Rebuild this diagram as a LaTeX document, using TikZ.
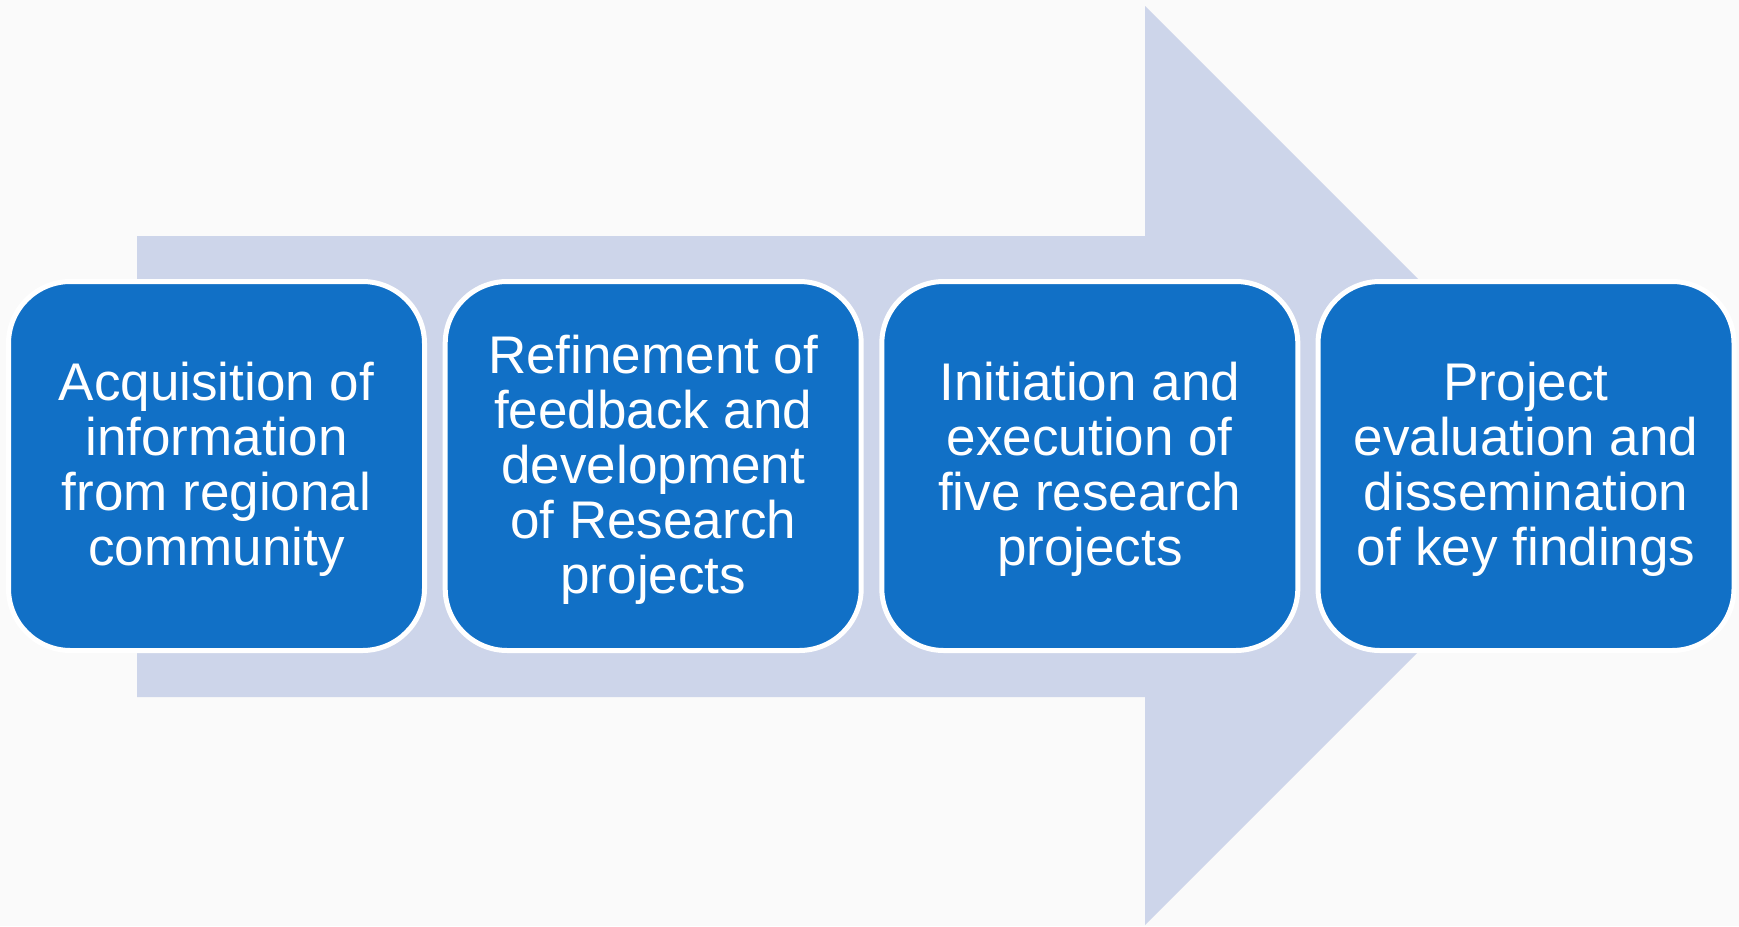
\documentclass[tikz,border=0pt]{standalone}
\usepackage{fontspec}
\setmainfont{Liberation Sans}
\definecolor{bgc}{HTML}{FAFAFA}
\definecolor{arrowc}{HTML}{CDD5EA}
\definecolor{boxc}{HTML}{1170C6}
\begin{document}
\begin{tikzpicture}[x=0.5pt,y=-0.5pt,
  stagebox/.style={rectangle, rounded corners=31pt, fill=boxc, draw=white,
    line width=2.5pt, minimum width=208pt, minimum height=184.5pt,
    inner sep=0pt},
  stagetext/.style={text=white, align=center, inner sep=0pt,
    font=\fontsize{26.5pt}{27.5pt}\selectfont}]
\fill[bgc] (0,0) rectangle (1739,926);
\useasboundingbox (0,0) rectangle (1739,926);
\fill[arrowc] (137,236) -- (1145,236) -- (1145,6) -- (1604.5,465.5)
  -- (1145,925) -- (1145,697) -- (137,697) -- cycle;
\node[stagebox] (s1) at (216.5,466) {};
\node[stagebox] (s2) at (653.2,466) {};
\node[stagebox] (s3) at (1089.8,466) {};
\node[stagebox] (s4) at (1526,466) {};
\node[stagetext] (t1) at ([yshift=-1.75pt]s1.center) {Acquisition of\\information\\from regional\\community};
\node[stagetext] (t2) at ([yshift=-1.75pt]s2.center) {Refinement of\\feedback and\\development\\of Research\\projects};
\node[stagetext] (t3) at ([yshift=-1.75pt]s3.center) {Initiation and\\execution of\\five research\\projects};
\node[stagetext] (t4) at ([yshift=-1.75pt]s4.center) {Project\\evaluation and\\dissemination\\of key findings};
\end{tikzpicture}
\end{document}
